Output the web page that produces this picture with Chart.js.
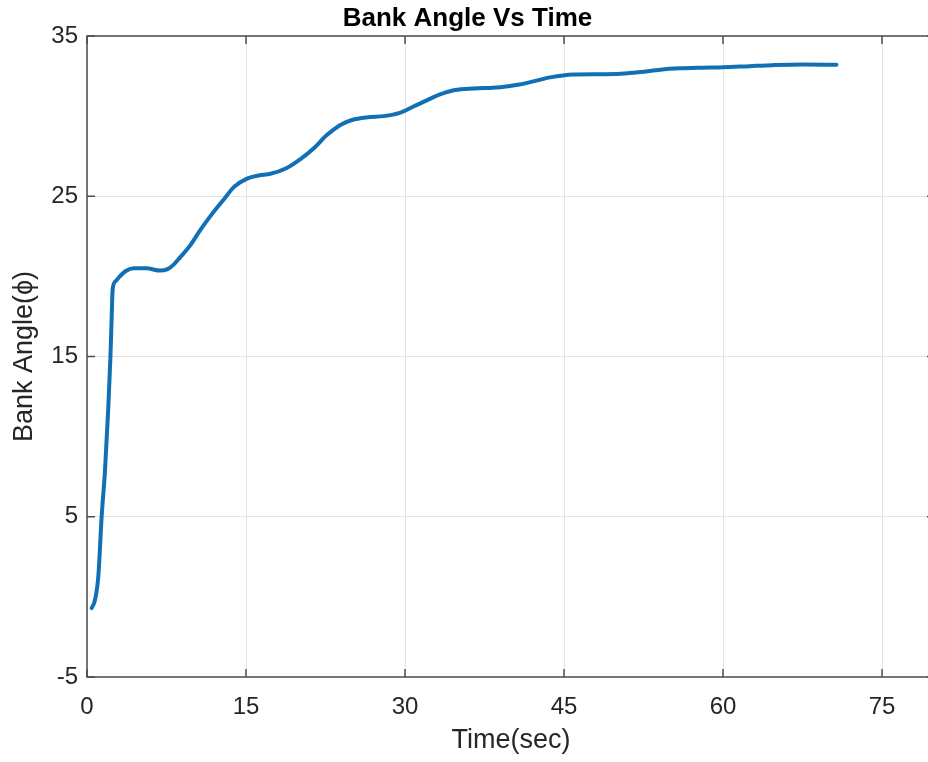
<!DOCTYPE html>
<html>
<head>
<meta charset="utf-8">
<script src="https://cdn.jsdelivr.net/npm/chart.js@4.4.1/dist/chart.umd.min.js"></script>
<style>
  html, body { margin: 0; padding: 0; background: #ffffff; overflow: hidden; }
  #wrap { width: 1024px; height: 762px; }
</style>
</head>
<body>
<div id="wrap"><canvas id="c" width="1024" height="762"></canvas></div>
<script>
// ---- data ----
const timeSec = [0.44, 0.75, 1.07, 1.38, 1.7, 2.0, 2.2, 2.33, 2.42, 2.7, 3.1, 3.7, 4.4, 5.6, 6.9, 7.6, 8.2, 8.8, 9.7, 10.7, 11.8, 12.9, 13.9, 15.1, 16.2, 17.3, 18.8, 20.1, 21.4, 22.6, 23.9, 25.0, 26.5, 28.0, 29.5, 30.8, 32.1, 33.3, 34.5, 35.8, 37.5, 39.0, 40.8, 42.3, 43.7, 45.9, 48.0, 50.0, 52.2, 54.1, 56.0, 58.0, 60.0, 62.5, 64.7, 67.5, 70.7];
const bankAngle = [-0.7, -0.2, 1.3, 5.0, 7.9, 11.7, 14.8, 17.5, 19.2, 19.7, 20.0, 20.35, 20.5, 20.5, 20.36, 20.45, 20.75, 21.2, 21.9, 22.9, 23.9, 24.8, 25.6, 26.1, 26.3, 26.4, 26.75, 27.3, 28.0, 28.8, 29.45, 29.76, 29.93, 30.0, 30.2, 30.6, 31.0, 31.35, 31.6, 31.7, 31.75, 31.8, 31.97, 32.2, 32.42, 32.6, 32.62, 32.63, 32.75, 32.9, 32.98, 33.02, 33.05, 33.12, 33.18, 33.22, 33.2];
const xTicks = [0, 15, 30, 45, 60, 75];
const yTicks = [-5, 5, 15, 25, 35];
const xRange = [0, 80];
const yRange = [-5, 35];
const chartTitle = 'Bank Angle Vs Time';
const xTitle = 'Time(sec)';
const yTitle = 'Bank Angle(\u03D5)';

const points = timeSec.map((t, i) => ({ x: t, y: bankAngle[i] }));
const FONT = "'Liberation Sans', Arial, Helvetica, sans-serif";
const AXIS_COLOR = '#4d4d4d';
const TEXT_COLOR = '#262626';

const boxPlugin = {
  id: 'matlabBox',
  afterDatasetsDraw(chart) {
    const { ctx, chartArea: a, scales } = chart;
    const xs = scales.x, ys = scales.y;
    ctx.save();
    ctx.strokeStyle = AXIS_COLOR;
    ctx.lineWidth = 1.5;
    ctx.beginPath();
    ctx.rect(a.left, a.top, a.right - a.left, a.bottom - a.top);
    ctx.stroke();
    const tl = 8;
    ctx.beginPath();
    xs.ticks.forEach(t => {
      const px = xs.getPixelForValue(t.value);
      ctx.moveTo(px, a.bottom); ctx.lineTo(px, a.bottom - tl);
      ctx.moveTo(px, a.top); ctx.lineTo(px, a.top + tl);
    });
    ys.ticks.forEach(t => {
      const py = ys.getPixelForValue(t.value);
      ctx.moveTo(a.left, py); ctx.lineTo(a.left + tl, py);
      ctx.moveTo(a.right, py); ctx.lineTo(a.right - tl, py);
    });
    ctx.stroke();
    ctx.restore();
  }
};

new Chart(document.getElementById('c'), {
  type: 'line',
  data: {
    datasets: [{
      data: points,
      borderColor: '#1170B5',
      borderWidth: 4,
      pointRadius: 0,
      fill: false,
      cubicInterpolationMode: 'monotone',
      borderCapStyle: 'round',
      borderJoinStyle: 'round'
    }]
  },
  options: {
    responsive: false,
    animation: false,
    devicePixelRatio: 1,
    layout: { padding: { left: 0, right: 89, top: 0, bottom: 0 } },
    plugins: {
      legend: { display: false },
      tooltip: { enabled: false },
      title: {
        display: true,
        text: chartTitle,
        color: '#000000',
        font: { family: FONT, size: 26, weight: 'bold', lineHeight: 1.1 },
        padding: { top: 4.5, bottom: 2.9 }
      }
    },
    scales: {
      x: {
        type: 'linear',
        min: xRange[0],
        max: xRange[1],
        afterBuildTicks: s => { s.ticks = xTicks.map(v => ({ value: v })); },
        afterFit: s => { s.height = 85; },
        grid: { color: '#e3e3e3', lineWidth: 1, drawTicks: false },
        border: { display: false },
        ticks: { color: TEXT_COLOR, font: { family: FONT, size: 24 }, padding: 16, maxRotation: 0 },
        title: { display: true, text: xTitle, color: TEXT_COLOR, font: { family: FONT, size: 27, lineHeight: 1.2 }, padding: { top: 0, bottom: 5 } }
      },
      y: {
        type: 'linear',
        min: yRange[0],
        max: yRange[1],
        afterBuildTicks: s => { s.ticks = yTicks.map(v => ({ value: v })); },
        afterFit: s => { s.width = 87; },
        grid: { color: '#e3e3e3', lineWidth: 1, drawTicks: false },
        border: { display: false },
        ticks: { color: TEXT_COLOR, font: { family: FONT, size: 24 }, padding: 9 },
        title: { display: true, text: yTitle, color: TEXT_COLOR, font: { family: FONT, size: 27, lineHeight: 1.2 }, padding: { top: 8, bottom: 0 } }
      }
    }
  },
  plugins: [boxPlugin]
});
</script>
</body>
</html>
